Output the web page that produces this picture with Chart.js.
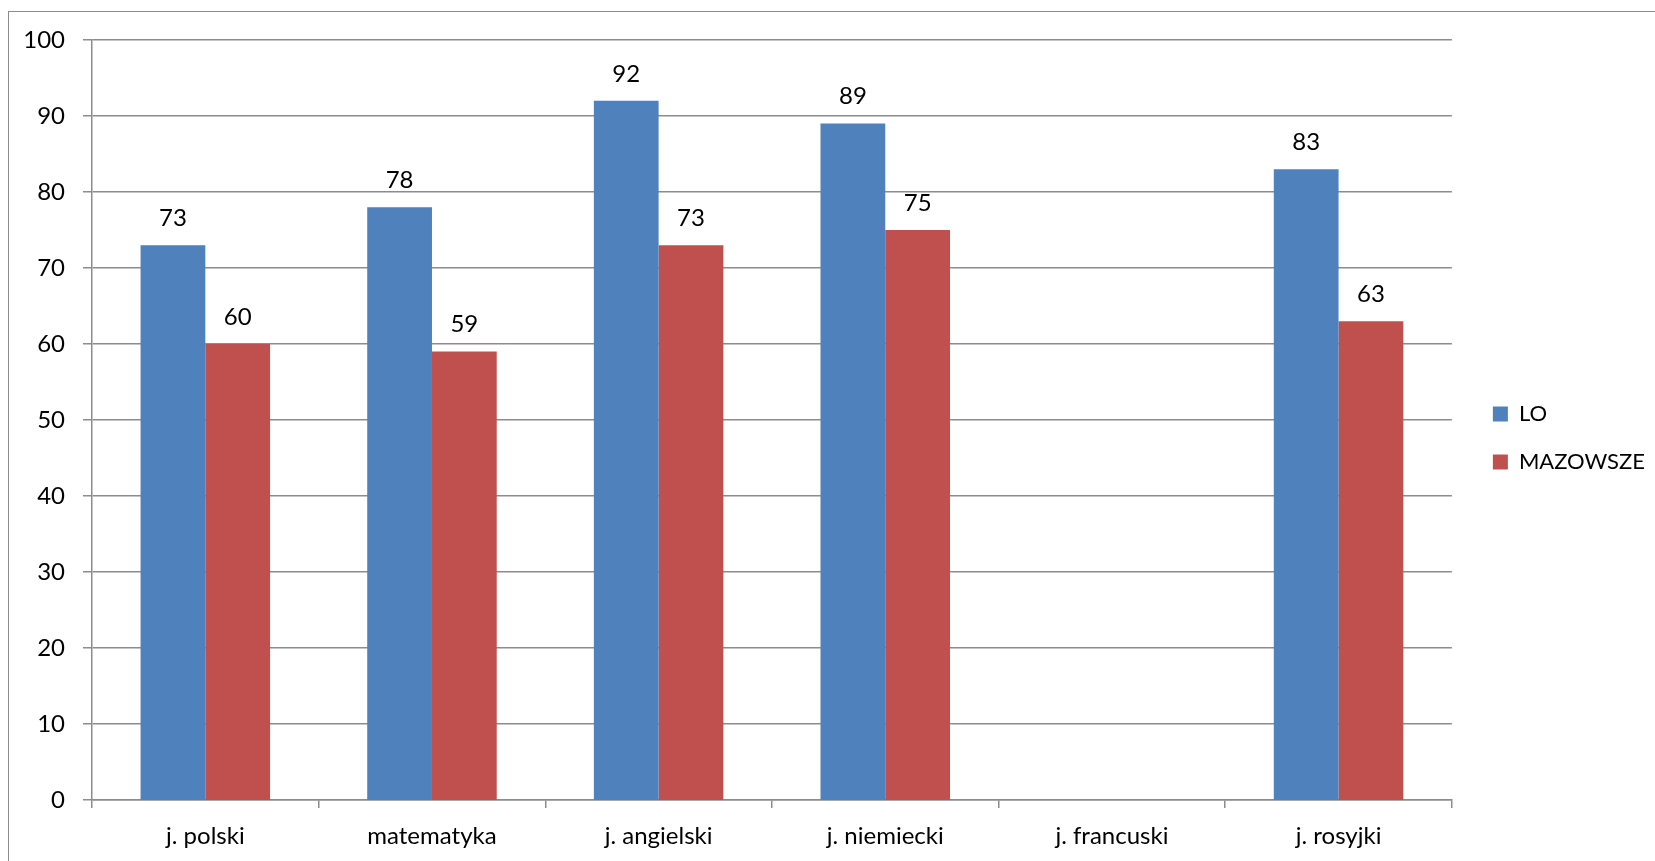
<!DOCTYPE html>
<html>
<head>
<meta charset="utf-8">
<script src="https://cdn.jsdelivr.net/npm/chart.js@4/dist/chart.umd.min.js"></script>
<style>
    html, body { margin: 0; padding: 0; background: #fff; overflow: hidden; }
    #frame { position: absolute; left: 8px; top: 11px; width: 1660px; height: 870px; border: 1px solid #8c8c8c; }
    #wrap { position: absolute; left: 0; top: 0; width: 1655px; height: 861px; }
</style>
</head>
<body>
<div id="frame"></div>
<div id="wrap"><canvas id="chart"></canvas></div>
<script>
/* ── dane wykresu ── */
const categories = ['j. polski', 'matematyka', 'j. angielski', 'j. niemiecki', 'j. francuski', 'j. rosyjki'];
const loValues = [73, 78, 92, 89, null, 83];
const mazowszeValues = [60, 59, 73, 75, null, 63];
const yTicks = [0, 10, 20, 30, 40, 50, 60, 70, 80, 90, 100];

const FONT = 'Lato, "Open Sans", sans-serif';
const GRID = '#8c8c8c';
const FSIZE = 24;

// etykiety wartości nad słupkami
const valueLabels = {
    id: 'valueLabels',
    afterDatasetsDraw(chart) {
        const ctx = chart.ctx;
        ctx.save();
        ctx.font = FSIZE + 'px ' + FONT;
        ctx.fillStyle = '#000';
        ctx.textAlign = 'center';
        ctx.textBaseline = 'middle';
        chart.data.datasets.forEach((ds, i) => {
            chart.getDatasetMeta(i).data.forEach((bar, j) => {
                const v = ds.data[j];
                if (v == null) return;
                ctx.fillText(String(v), bar.x, bar.y - 27);
            });
        });
        ctx.restore();
    },
};

// pusty margines (oś bez treści)
const spacer = (position, size) => ({
    type: position === 'top' ? 'category' : 'linear',
    position,
    grid: { display: false },
    border: { display: false },
    ticks: { display: false },
    afterFit: s => {
        if (position === 'top') s.height = size;
        else s.width = size;
    },
});

new Chart(document.getElementById('chart'), {
    type: 'bar',
    data: {
        labels: categories,
        datasets: [
            { label: 'LO', data: loValues, backgroundColor: '#4f81bd', borderWidth: 0 },
            { label: 'MAZOWSZE', data: mazowszeValues, backgroundColor: '#c0504d', borderWidth: 0 },
        ],
    },
    options: {
        responsive: true,
        maintainAspectRatio: false,
        animation: false,
        layout: { padding: { top: 20, left: 0, right: 0, bottom: 5 } },
        datasets: { bar: { categoryPercentage: 2 / 3.5, barPercentage: 1 } },
        plugins: {
            legend: {
                position: 'right',
                labels: {
                    font: { size: 22, family: FONT },
                    color: '#000',
                    boxWidth: 15,
                    boxHeight: 15,
                    padding: 26,
                },
            },
            tooltip: { enabled: false },
        },
        scales: {
            x: {
                grid: { drawOnChartArea: false, offset: true, color: GRID, tickLength: 8, lineWidth: 1.5 },
                border: { color: GRID, width: 1.5 },
                ticks: { font: { size: FSIZE, family: FONT }, color: '#000', padding: 14 },
                afterFit: s => { s.height = 56; },
            },
            top: spacer('top', 20),
            right: spacer('right', 15),
            y: {
                min: 0,
                max: 100,
                afterBuildTicks: s => { s.ticks = yTicks.map(v => ({ value: v })); },
                grid: { color: GRID, tickLength: 9, lineWidth: 1.5 },
                border: { color: GRID, width: 1.5 },
                ticks: { font: { size: FSIZE, family: FONT }, color: '#000', padding: 18 },
                afterFit: s => { s.width = 92; },
            },
        },
    },
    plugins: [valueLabels],
});
</script>
</body>
</html>
